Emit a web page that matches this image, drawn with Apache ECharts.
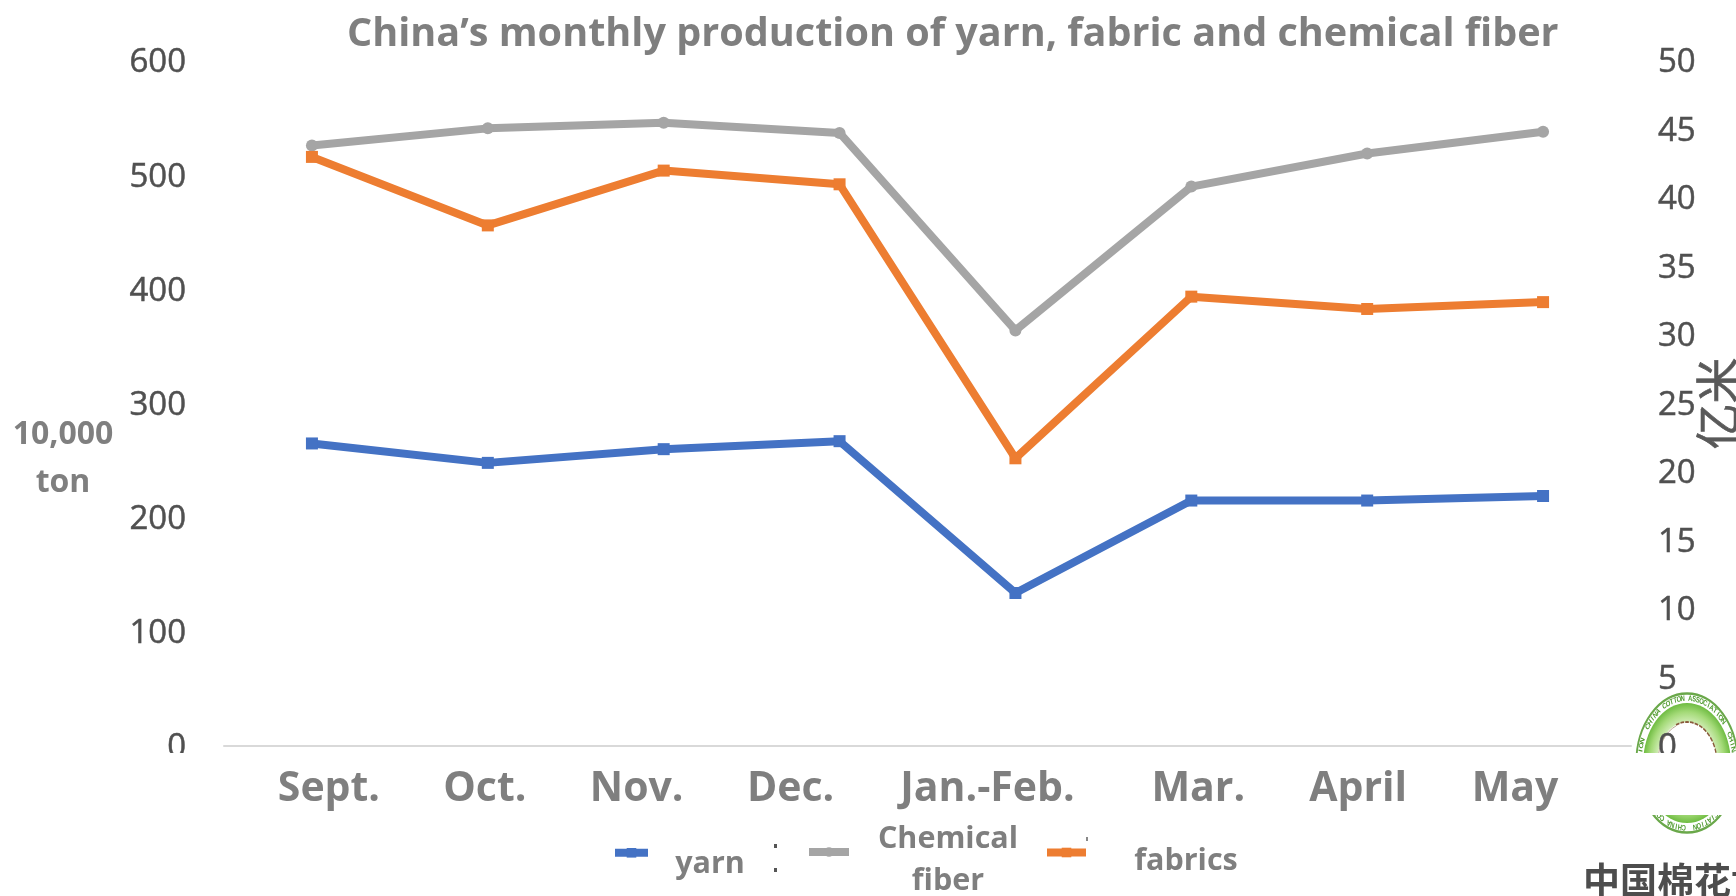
<!DOCTYPE html>
<html><head><meta charset="utf-8">
<style>html,body{margin:0;padding:0;background:#fff;overflow:hidden}#c{width:1736px;height:896px}</style>
<script src="https://cdn.jsdelivr.net/npm/echarts@6/dist/echarts.min.js"></script>
</head><body><div id="c"></div>
<script>
const titleText = 'China’s monthly production of yarn, fabric and chemical fiber';
const categories = ['Sept.','Oct.','Nov.','Dec.','Jan.-Feb.','Mar.','April','May'];
const yarn = [265,248,260,267,134,215,215,219];
const chemicalFiber = [526,541,546,537,364,490,519,538];
const fabrics = [43,38,42,41,21,32.8,31.9,32.4];
const leftTicks = {min:0,max:600,interval:100};
const rightTicks = {min:0,max:50,interval:5};

const FONT = '"Open Sans","Noto Sans",sans-serif';
const labelShift = [17,-3,-27,-49,-28,7,-9,-28];
const catRich = {};
categories.forEach((c,i)=>{
  const d = labelShift[i];
  catRich['c'+i] = {fontFamily:FONT,fontSize:41,fontWeight:'bold',color:'#7f7f7f',
    padding: d>=0 ? [0,0,0,2*d] : [0,-2*d,0,0]};
});

/* logo ring text */
const ringChars = [];
const ringStr = 'CHINA COTTON ASSOCIATION  ';
const STEP = 360/(ringStr.length*3);
for(let k=0;k<3;k++){
  for(let i=0;i<ringStr.length;i++){
    const ch = ringStr[i];
    if(ch===' ')continue;
    const th = (-56 + (k*ringStr.length+i)*STEP)*Math.PI/180;
    ringChars.push({type:'text',x:64.5*Math.sin(th),y:-64.5*Math.cos(th),rotation:-th,z:-5,
      style:{text:ch,fontSize:8,fontWeight:'bold',fontFamily:'"Liberation Sans",sans-serif',fill:'#4f9a2e',align:'center',verticalAlign:'middle'}});
  }
}
const LOGO_X=1687, LOGO_Y=763;
const logo = {type:'group',x:LOGO_X,y:LOGO_Y,scaleX:0.73,z:-5,children:[
  {type:'circle',shape:{r:69.5},z:-9,style:{fill:'#fff',stroke:'#6aa84a',lineWidth:2.5}},
  {type:'circle',shape:{r:60},z:-8,style:{fill:{type:'radial',x:.5,y:.5,r:.5,colorStops:[{offset:.65,color:'#d8f0c0'},{offset:.85,color:'#a4da78'},{offset:1,color:'#6fbc42'}]}}},
  {type:'circle',shape:{r:41},z:-7,style:{fill:'#fff'}},
  {type:'arc',shape:{r:41,startAngle:-Math.PI*0.62,endAngle:-Math.PI*0.08},z:-6,style:{fill:null,stroke:'#8a5a3c',lineWidth:1.8,lineDash:[5,1.5]}},
  {type:'arc',shape:{r:40,startAngle:-Math.PI*0.98,endAngle:-Math.PI*0.62},z:-6,style:{fill:null,stroke:'#b09a80',lineWidth:1}},
  ...ringChars
]};

const chart = echarts.init(document.getElementById('c'),null,{renderer:'canvas'});
const legendBase = {orient:'horizontal',padding:0,itemHeight:12,itemGap:0,selectedMode:false,lineStyle:{width:8}};
const legendFont = {fontFamily:FONT,fontSize:30.5,fontWeight:'bold',color:'#7f7f7f'};
const tickStyle = {showMinLabel:true,showMaxLabel:true,formatter:v=>'{t|'+v+'}',
  rich:{t:{fontFamily:FONT,fontSize:33,color:'#505050',textBorderColor:'#505050',textBorderWidth:0.5,padding:[4,0,0,0]}}};
chart.setOption({
  animation:false,
  backgroundColor:'#fff',
  title:{text:titleText,left:347,top:15,padding:0,
    textStyle:{fontFamily:FONT,fontSize:39.6,fontWeight:'bold',color:'#7f7f7f'}},
  grid:{left:224,right:105,top:61,bottom:150,containLabel:false,outerBoundsMode:'none'},
  legend:[
    {...legendBase,data:['yarn'],itemWidth:33,left:611,top:848,
     formatter:n=>'{t|'+n+'}',
     textStyle:{rich:{t:{...legendFont,width:114,align:'center',padding:[24,0,0,0]}}}},
    {...legendBase,data:['Chemical fiber'],itemWidth:40,left:805,top:824,
     formatter:()=>'{a|Chemical}\n{b|fiber}',
     textStyle:{rich:{a:{...legendFont,width:188,align:'center',lineHeight:59},b:{...legendFont,width:188,align:'center',lineHeight:25}}}},
    {...legendBase,data:['fabrics'],itemWidth:39,left:1043,top:846,
     formatter:n=>'{t|'+n+'}',
     textStyle:{rich:{t:{...legendFont,width:190,align:'center',padding:[18,0,0,0]}}}}
  ],
  xAxis:{type:'category',data:categories,boundaryGap:true,
    axisTick:{show:false},
    axisLine:{lineStyle:{color:'#d9d9d9',width:2}},
    axisLabel:{margin:23,interval:0,hideOverlap:false,rich:catRich,
      formatter:(v,i)=>'{c'+i+'|'+v+'}'}},
  yAxis:[
    {type:'value',...leftTicks,position:'left',
     name:'10,000\nton',nameLocation:'middle',nameRotate:0,nameGap:161,
     nameTextStyle:{fontFamily:FONT,fontSize:32,fontWeight:'bold',color:'#7f7f7f',lineHeight:48,align:'center',verticalAlign:'top',padding:[7,0,0,0]},
     splitLine:{show:false},axisLine:{show:false},axisTick:{show:false},
     axisLabel:{margin:38,...tickStyle}},
    {type:'value',...rightTicks,position:'right',
     name:'亿米',nameLocation:'middle',nameRotate:90,nameGap:64,nameMoveOverlap:false,
     nameTextStyle:{fontFamily:'"Noto Sans CJK SC",sans-serif',fontSize:46,color:'#595959',textBorderColor:'#595959',textBorderWidth:0.6},
     splitLine:{show:false},axisLine:{show:false},axisTick:{show:false},
     axisLabel:{margin:27,...tickStyle}}
  ],
  series:[
    {name:'yarn',type:'line',data:yarn,yAxisIndex:0,symbol:'rect',symbolSize:12,
     lineStyle:{color:'#4472C4',width:8},itemStyle:{color:'#4472C4'}},
    {name:'Chemical fiber',type:'line',data:chemicalFiber,yAxisIndex:0,symbol:'circle',symbolSize:12,
     lineStyle:{color:'#A5A5A5',width:8},itemStyle:{color:'#A5A5A5'}},
    {name:'fabrics',type:'line',data:fabrics,yAxisIndex:1,symbol:'rect',symbolSize:12,
     lineStyle:{color:'#ED7D31',width:8},itemStyle:{color:'#ED7D31'}}
  ],
  graphic:{elements:[
    logo,
    {type:'rect',shape:{x:1620,y:753,width:116,height:62},z:50,style:{fill:'#fff'}},
    {type:'rect',shape:{x:100,y:753,width:110,height:14},z:50,style:{fill:'#fff'}},
    {type:'rect',shape:{x:774,y:844,width:3,height:4},z:50,style:{fill:'#555'}},
    {type:'rect',shape:{x:774,y:868,width:3,height:4},z:50,style:{fill:'#555'}},
    {type:'rect',shape:{x:1086,y:837,width:2,height:4},z:50,style:{fill:'#888'}},
    {type:'text',x:1583,y:881,z:50,style:{text:'中国棉花协',fontFamily:'"Noto Sans CJK SC",sans-serif',fontSize:37,fontWeight:'bold',fill:'#4d4d4d',verticalAlign:'middle'}}
  ]}
});
</script></body></html>
